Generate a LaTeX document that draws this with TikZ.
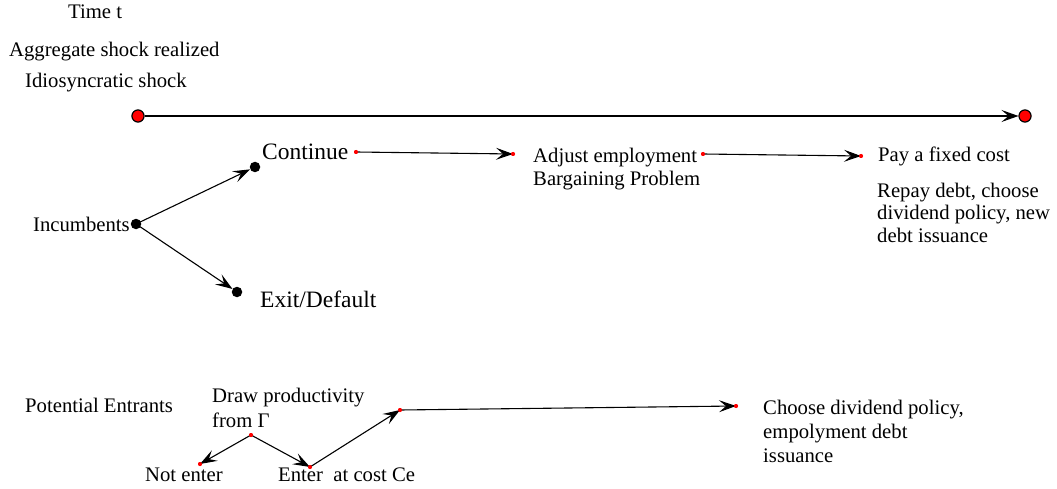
\documentclass[tikz,border=0pt]{standalone}
\usepackage{fontspec}
\setmainfont{Liberation Serif}
\usetikzlibrary{arrows.meta}
\begin{document}
\begin{tikzpicture}[x=1pt,y=-1pt,
  txt/.style={inner sep=0pt,anchor=base west,font=\fontsize{20.7}{23}\selectfont},
  bigtxt/.style={inner sep=0pt,anchor=base west,font=\fontsize{23.5}{26}\selectfont},
  multi/.style={inner sep=0pt,anchor=north west,align=left,font=\fontsize{20.7}{#1}\selectfont},
  reddot/.style={circle,fill=red,inner sep=0pt,minimum size=4pt},
  enddot/.style={circle,fill=red,draw=black,line width=1pt,inner sep=0pt,minimum size=12pt},
  blackdot/.style={circle,fill=black,inner sep=0pt,minimum size=10.5pt},
  arr/.style={line width=1.1pt,-{Stealth[length=17pt 0,width=12pt 0,inset=7pt 0]}}
]
\useasboundingbox (0,0) rectangle (1057,489);

% header labels
\node[txt] (time) at (68,18.5) {Time t};
\node[txt] (agg) at (9,56.5) {Aggregate shock realized};
\node[txt] (idio) at (25,88) {Idiosyncratic shock};

% time line
\node[enddot] (t0) at (138,116) {};
\node[enddot] (t1) at (1025,116) {};
\draw[arr,line width=1.4pt] (t0) -- (t1);
\node[enddot] at (t0) {};
\node[enddot] at (t1) {};

% incumbents branch
\node[txt] (inclab) at (33,232) {Incumbents};
\node[blackdot] (inc) at (136,224) {};
\node[blackdot] (cont) at (255,167) {};
\node[blackdot] (exit) at (237,292) {};
\node[bigtxt] (contlab) at (262,160) {Continue};
\node[bigtxt] (exitlab) at (260,307) {Exit/Default};
\draw[arr] (inc.center) -- (cont);
\draw[arr] (inc.center) -- (exit);

% incumbents sequence
\node[reddot] (c1) at (356,152) {};
\node[reddot] (a0) at (513,154) {};
\node[reddot] (a1) at (703,154) {};
\node[reddot] (p0) at (861,156) {};
\draw[arr] (c1.center) -- (a0.center);
\draw[arr] (a1.center) -- (p0.center);
\node[reddot] at (c1) {};
\node[reddot] at (a0) {};
\node[reddot] at (a1) {};
\node[reddot] at (p0) {};
\node[multi=23] (adj) at (533,147.9) {Adjust employment\\Bargaining Problem};
\node[txt] (pay) at (878,162) {Pay a fixed cost};
\node[multi=22.5] (repay) at (877,182.9) {Repay debt, choose\\dividend policy, new\\debt issuance};

% potential entrants
\node[txt] (pelab) at (25,412) {Potential Entrants};
\node[multi=25] (drawlab) at (212,387.9) {Draw productivity\\from Γ};
\node[reddot] (dr) at (251,435) {};
\node[reddot] (ne) at (200,464) {};
\node[reddot] (en) at (310,467) {};
\node[reddot] (up) at (400,410) {};
\node[reddot] (ch) at (736,406) {};
\draw[arr] (dr.center) -- (ne.center);
\draw[arr] (dr.center) -- (en.center);
\draw[arr] (en.center) -- (up.center);
\draw[arr] (up.center) -- (ch.center);
\node[reddot] at (dr) {};
\node[reddot] at (ne) {};
\node[reddot] at (en) {};
\node[reddot] at (up) {};
\node[reddot] at (ch) {};
\node[txt] (nelab) at (145,481) {Not enter};
\node[txt] (enlab) at (278,481) {Enter\ \ at cost Ce};
\node[multi=24] (choose) at (763,399.9) {Choose dividend policy,\\empolyment debt\\issuance};
\end{tikzpicture}
\end{document}
